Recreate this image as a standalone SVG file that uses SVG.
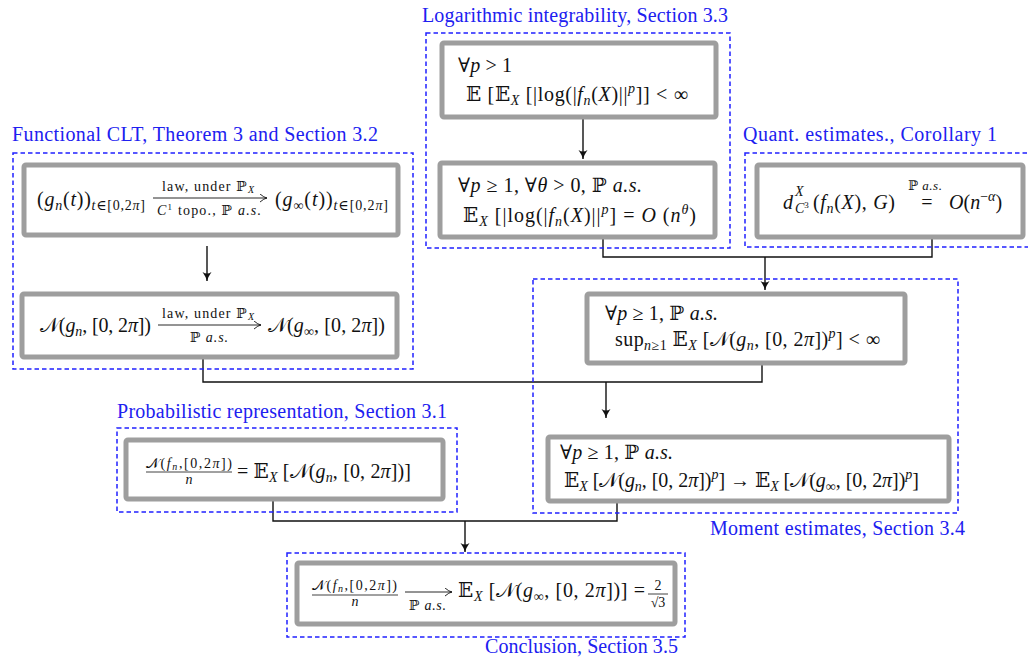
<svg xmlns="http://www.w3.org/2000/svg" width="1028" height="659" viewBox="0 0 1028 659">
<style>
.grp{fill:none;stroke:#2020ff;stroke-width:1.5;stroke-dasharray:4.5,3}
.box{fill:#fff;stroke:#9e9e9e;stroke-width:5;}
.lbl{font-family:"Liberation Serif","DejaVu Serif",serif;font-size:20px;fill:#2020f0}
.m{font-family:"Liberation Serif","DejaVu Serif",serif;font-size:20px;fill:#111}
.i{font-style:italic}
.s{font-size:14px}
.t{font-size:14px}
.tt{font-size:13px}
.c{fill:none;stroke:#111;stroke-width:1.4}
</style>
<defs>
<marker id="ah" markerUnits="userSpaceOnUse" markerWidth="12" markerHeight="12" refX="9" refY="5" orient="auto">
<path d="M0,0.5 Q5,4 9,5 Q5,6 0,9.5 Q3,5 0,0.5z" fill="#111"/>
</marker>
<marker id="sa" markerUnits="userSpaceOnUse" markerWidth="10" markerHeight="10" refX="7" refY="4" orient="auto">
<path d="M0,0 Q4,3.5 7,4 Q4,4.5 0,8" fill="none" stroke="#111" stroke-width="0.9"/>
</marker>
</defs>

<g id="connectors">
<line class="c" x1="583" y1="119" x2="583" y2="159" marker-end="url(#ah)"/>
<line class="c" x1="207" y1="246" x2="207" y2="281" marker-end="url(#ah)"/>
<polyline class="c" points="603,239 603,257 932,257 932,239"/>
<line class="c" x1="765" y1="257" x2="765" y2="290" marker-end="url(#ah)"/>
<polyline class="c" points="203,359 203,382 762,382 762,365"/>
<line class="c" x1="606" y1="382" x2="606" y2="418" marker-end="url(#ah)"/>
<polyline class="c" points="273,501 273,521 617,521 617,503"/>
<line class="c" x1="465" y1="521" x2="465" y2="552" marker-end="url(#ah)"/>
</g>

<g id="group-log">
<rect class="grp" x="426" y="33" width="304" height="215"/>
<text class="lbl" x="422" y="22" textLength="306">Logarithmic integrability, Section 3.3</text>
</g>
<g id="node-log1">
<rect class="box" x="442" y="43" width="274" height="74" rx="2"/>
<text class="m" x="458" y="72" textLength="54">∀<tspan class="i">p</tspan> &gt; 1</text>
<text class="m" x="466" y="101" textLength="222">𝔼 [𝔼<tspan class="s i" dy="4">X</tspan><tspan dy="-4"> [|log(|</tspan><tspan class="i">f</tspan><tspan class="s i" dy="4">n</tspan><tspan dy="-4">(</tspan><tspan class="i">X</tspan>)||<tspan class="s i" dy="-8">p</tspan><tspan dy="8">]] &lt; ∞</tspan></text>
</g>
<g id="node-log2">
<rect class="box" x="440" y="163" width="275" height="74" rx="2"/>
<text class="m" x="458" y="192" textLength="184">∀<tspan class="i">p</tspan> ≥ 1, ∀<tspan class="i">θ</tspan> &gt; 0, ℙ <tspan class="i">a.s.</tspan></text>
<text class="m" x="463" y="222" textLength="233">𝔼<tspan class="s i" dy="4">X</tspan><tspan dy="-4"> [|log(|</tspan><tspan class="i">f</tspan><tspan class="s i" dy="4">n</tspan><tspan dy="-4">(</tspan><tspan class="i">X</tspan>)||<tspan class="s i" dy="-8">p</tspan><tspan dy="8">] = </tspan><tspan class="i">O</tspan> (<tspan class="i">n</tspan><tspan class="s i" dy="-8">θ</tspan><tspan dy="8">)</tspan></text>
</g>

<g id="group-clt">
<rect class="grp" x="13" y="153" width="400" height="216"/>
<text class="lbl" x="12" y="141" textLength="366">Functional CLT, Theorem 3 and Section 3.2</text>
</g>
<g id="node-clt1">
<rect class="box" x="24" y="165" width="374" height="70" rx="2"/>
<text class="m" x="37" y="206" textLength="108">(<tspan class="i">g</tspan><tspan class="s i" dy="4">n</tspan><tspan dy="-4">(</tspan><tspan class="i">t</tspan>))<tspan class="s" dy="4"><tspan class="i">t</tspan>∈[0,2<tspan class="i">π</tspan>]</tspan></text>
<text class="m t" x="162" y="191" textLength="92">law, under ℙ<tspan class="i" font-size="10" dy="2">X</tspan></text>
<line x1="153" y1="198" x2="267" y2="198" stroke="#111" stroke-width="0.9" marker-end="url(#sa)"/>
<text class="m t" x="157" y="215" textLength="104"><tspan class="i">C</tspan><tspan font-size="9" dy="-5">1</tspan><tspan dy="5"> topo., ℙ </tspan><tspan class="i">a.s.</tspan></text>
<text class="m" x="275" y="206" textLength="113">(<tspan class="i">g</tspan><tspan class="s" dy="4">∞</tspan><tspan dy="-4">(</tspan><tspan class="i">t</tspan>))<tspan class="s" dy="4"><tspan class="i">t</tspan>∈[0,2<tspan class="i">π</tspan>]</tspan></text>
</g>
<g id="node-clt2">
<rect class="box" x="22" y="294" width="375" height="63" rx="2"/>
<text class="m" x="40" y="332" textLength="111">𝒩(<tspan class="i">g</tspan><tspan class="s i" dy="4">n</tspan><tspan dy="-4">, [0, 2</tspan><tspan class="i">π</tspan>])</text>
<text class="m t" x="162" y="318" textLength="92">law, under ℙ<tspan class="i" font-size="10" dy="2">X</tspan></text>
<line x1="158" y1="325" x2="261" y2="325" stroke="#111" stroke-width="0.9" marker-end="url(#sa)"/>
<text class="m t" x="190" y="342" textLength="38">ℙ <tspan class="i">a.s.</tspan></text>
<text class="m" x="268" y="332" textLength="117">𝒩(<tspan class="i">g</tspan><tspan class="s" dy="4">∞</tspan><tspan dy="-4">, [0, 2</tspan><tspan class="i">π</tspan>])</text>
</g>

<g id="group-quant">
<rect class="grp" x="745" y="153" width="290" height="94"/>
<text class="lbl" x="743" y="141" textLength="254">Quant. estimates., Corollary 1</text>
</g>
<g id="node-quant">
<rect class="box" x="757" y="165" width="266" height="72" rx="2"/>
<text class="m i" x="783" y="209">d</text>
<text class="m s i" x="795" y="196">X</text>
<text class="m s i" x="795" y="213">C<tspan font-size="9" dy="-5" font-style="normal">3</tspan></text>
<text class="m" x="813" y="209" textLength="82">(<tspan class="i">f</tspan><tspan class="s i" dy="4">n</tspan><tspan dy="-4">(</tspan><tspan class="i">X</tspan>), <tspan class="i">G</tspan>)</text>
<text class="m" x="927" y="209" text-anchor="middle">=</text>
<text class="m tt" x="908" y="190" textLength="34">ℙ <tspan class="i">a.s.</tspan></text>
<text class="m" x="949" y="209"><tspan class="i">O</tspan>(<tspan class="i">n</tspan><tspan class="s" dy="-8">−<tspan class="i">α</tspan></tspan><tspan dy="8">)</tspan></text>
</g>

<g id="group-moment">
<rect class="grp" x="533" y="279" width="425" height="234"/>
<text class="lbl" x="710" y="535" textLength="255">Moment estimates, Section 3.4</text>
</g>
<g id="node-moment1">
<rect class="box" x="587" y="294" width="318" height="69" rx="2"/>
<text class="m" x="605" y="320" textLength="113">∀<tspan class="i">p</tspan> ≥ 1, ℙ <tspan class="i">a.s.</tspan></text>
<text class="m" x="615" y="346" textLength="265">sup<tspan class="s" dy="4"><tspan class="i">n</tspan>≥1</tspan><tspan dy="-4"> 𝔼</tspan><tspan class="s i" dy="4">X</tspan><tspan dy="-4"> [𝒩(</tspan><tspan class="i">g</tspan><tspan class="s i" dy="4">n</tspan><tspan dy="-4">, [0, 2</tspan><tspan class="i">π</tspan>])<tspan class="s i" dy="-8">p</tspan><tspan dy="8">] &lt; ∞</tspan></text>
</g>
<g id="node-moment2">
<rect class="box" x="548" y="437" width="401" height="64" rx="2"/>
<text class="m" x="560" y="459" textLength="113">∀<tspan class="i">p</tspan> ≥ 1, ℙ <tspan class="i">a.s.</tspan></text>
<text class="m" x="564" y="487" textLength="355">𝔼<tspan class="s i" dy="4">X</tspan><tspan dy="-4"> [𝒩(</tspan><tspan class="i">g</tspan><tspan class="s i" dy="4">n</tspan><tspan dy="-4">, [0, 2</tspan><tspan class="i">π</tspan>])<tspan class="s i" dy="-8">p</tspan><tspan dy="8">] → 𝔼</tspan><tspan class="s i" dy="4">X</tspan><tspan dy="-4"> [𝒩(</tspan><tspan class="i">g</tspan><tspan class="s" dy="4">∞</tspan><tspan dy="-4">, [0, 2</tspan><tspan class="i">π</tspan>])<tspan class="s i" dy="-8">p</tspan><tspan dy="8">]</tspan></text>
</g>

<g id="group-prob">
<rect class="grp" x="117" y="428" width="340" height="84"/>
<text class="lbl" x="117" y="418" textLength="330">Probabilistic representation, Section 3.1</text>
</g>
<g id="node-prob">
<rect class="box" x="126" y="440" width="317" height="59" rx="2"/>
<text class="m s" x="146" y="468" textLength="86">𝒩(<tspan class="i">f</tspan><tspan class="i" font-size="10" dy="2">n</tspan><tspan dy="-2">,[0,2</tspan><tspan class="i">π</tspan>])</text>
<line x1="146" y1="472" x2="232" y2="472" stroke="#111" stroke-width="0.8"/>
<text class="m s i" x="189" y="484" text-anchor="middle">n</text>
<text class="m" x="237" y="478" textLength="174">= 𝔼<tspan class="s i" dy="4">X</tspan><tspan dy="-4"> [𝒩(</tspan><tspan class="i">g</tspan><tspan class="s i" dy="4">n</tspan><tspan dy="-4">, [0, 2</tspan><tspan class="i">π</tspan>])]</text>
</g>

<g id="group-concl">
<rect class="grp" x="287" y="553" width="398" height="84"/>
<text class="lbl" x="485" y="653" textLength="193">Conclusion, Section 3.5</text>
</g>
<g id="node-concl">
<rect class="box" x="297" y="563" width="378" height="61" rx="2"/>
<text class="m s" x="312" y="590" textLength="85">𝒩(<tspan class="i">f</tspan><tspan class="i" font-size="10" dy="2">n</tspan><tspan dy="-2">,[0,2</tspan><tspan class="i">π</tspan>])</text>
<line x1="312" y1="595" x2="398" y2="595" stroke="#111" stroke-width="0.8"/>
<text class="m s i" x="355" y="606" text-anchor="middle">n</text>
<line x1="405" y1="592" x2="452" y2="592" stroke="#111" stroke-width="0.9" marker-end="url(#sa)"/>
<text class="m t" x="409" y="610" textLength="37">ℙ <tspan class="i">a.s.</tspan></text>
<text class="m" x="458" y="597" textLength="187">𝔼<tspan class="s i" dy="4">X</tspan><tspan dy="-4"> [𝒩(</tspan><tspan class="i">g</tspan><tspan class="s" dy="4">∞</tspan><tspan dy="-4">, [0, 2</tspan><tspan class="i">π</tspan>])] =</text>
<text class="m s" x="658" y="590" text-anchor="middle">2</text>
<line x1="648" y1="594" x2="668" y2="594" stroke="#111" stroke-width="0.8"/>
<text class="m s" x="658" y="607" text-anchor="middle">√3</text>
</g>
</svg>
